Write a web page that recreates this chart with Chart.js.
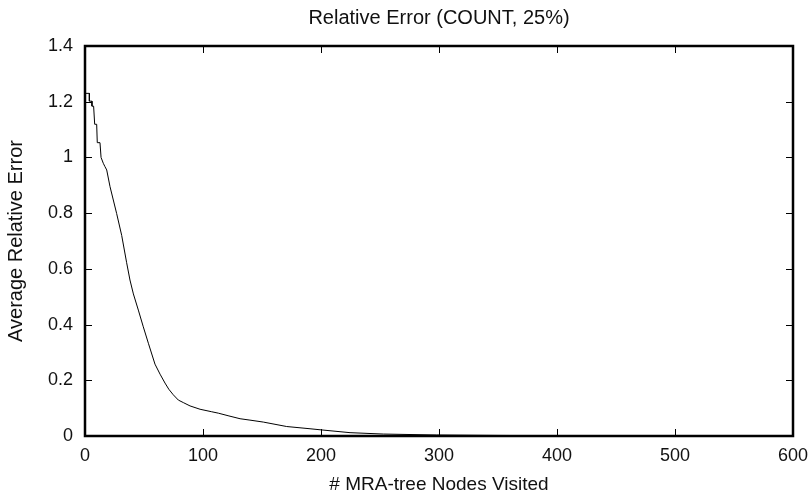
<!DOCTYPE html>
<html>
<head>
<meta charset="utf-8">
<script src="https://cdn.jsdelivr.net/npm/chart.js@4"></script>
<style>
html,body{margin:0;padding:0;background:#fff;}
#wrap{width:810px;height:498px;}
</style>
</head>
<body>
<div id="wrap"><canvas id="c" width="810" height="498"></canvas></div>
<script>
const chartTitle = "Relative Error (COUNT, 25%)";
const xAxisTitle = "# MRA-tree Nodes Visited";
const yAxisTitle = "Average Relative Error";
const xTickValues = [0, 100, 200, 300, 400, 500, 600];
const yTickValues = [0, 0.2, 0.4, 0.6, 0.8, 1, 1.2, 1.4];
const nodesVisited = [0, 3.7, 3.7, 5.9, 5.9, 7.3, 8.2, 9.9, 10.4, 12.7, 13.6, 15.5, 16.9, 18.4, 21.2, 26.8, 31.1, 35.3, 38.1, 41, 45.2, 49.4, 53.7, 59.3, 63.6, 67.8, 71, 74.8, 79.1, 83.3, 89, 97.5, 107.4, 113, 122, 131.4, 139.8, 151.1, 170.9, 190.7, 200, 224.6, 252.8, 298, 350, 400, 500, 600];
const avgRelError = [1.230, 1.230, 1.202, 1.202, 1.184, 1.184, 1.119, 1.119, 1.053, 1.053, 1.000, 0.979, 0.967, 0.955, 0.895, 0.799, 0.720, 0.622, 0.560, 0.510, 0.452, 0.392, 0.333, 0.258, 0.222, 0.190, 0.168, 0.148, 0.129, 0.120, 0.108, 0.096, 0.087, 0.082, 0.072, 0.062, 0.057, 0.050, 0.034, 0.026, 0.022, 0.012, 0.007, 0.0036, 0.002, 0.001, 0.0005, 0.0003];

const FONT = "'Liberation Sans', Arial, Helvetica, sans-serif";
const points = nodesVisited.map((x, i) => ({x: x, y: avgRelError[i]}));

const frameAndTicks = {
  id: 'frameAndTicks',
  afterDatasetsDraw(chart) {
    const ctx = chart.ctx, a = chart.chartArea;
    const xs = chart.scales.x, ys = chart.scales.y;
    const L = 7;
    ctx.save();
    ctx.strokeStyle = '#000';
    ctx.lineWidth = 1;
    ctx.beginPath();
    xTickValues.forEach(v => {
      const px = Math.round(xs.getPixelForValue(v)) + 0.5;
      ctx.moveTo(px, a.bottom); ctx.lineTo(px, a.bottom - L);
      ctx.moveTo(px, a.top); ctx.lineTo(px, a.top + L);
    });
    yTickValues.forEach(v => {
      const py = Math.round(ys.getPixelForValue(v)) + 0.5;
      ctx.moveTo(a.left, py); ctx.lineTo(a.left + L, py);
      ctx.moveTo(a.right, py); ctx.lineTo(a.right - L, py);
    });
    ctx.stroke();
    ctx.lineWidth = 2.5;
    ctx.strokeRect(a.left, a.top, a.right - a.left, a.bottom - a.top);
    // title centred over the plot area
    ctx.fillStyle = '#111';
    ctx.font = "20px " + FONT;
    ctx.textAlign = 'center';
    ctx.textBaseline = 'middle';
    ctx.fillText(chartTitle, (a.left + a.right) / 2, 18);
    ctx.restore();
  }
};

new Chart(document.getElementById('c'), {
  type: 'line',
  data: {
    datasets: [{
      data: points,
      borderColor: '#000',
      borderWidth: 1,
      pointRadius: 0,
      fill: false,
      tension: 0
    }]
  },
  options: {
    responsive: false,
    animation: false,
    devicePixelRatio: 1,
    layout: {padding: {left: 0, right: 17, top: 46, bottom: 0}},
    plugins: {
      legend: {display: false},
      tooltip: {enabled: false},
      title: {display: false}
    },
    scales: {
      x: {
        type: 'linear',
        min: 0, max: 600,
        afterBuildTicks: s => { s.ticks = xTickValues.map(v => ({value: v})); },
        afterFit: s => { s.height = 62; s.paddingLeft = 0; s.paddingRight = 0; },
        grid: {display: false, drawTicks: false},
        border: {display: false},
        ticks: {color: '#111', font: {family: FONT, size: 18}, padding: 9, maxRotation: 0, autoSkip: false},
        title: {display: true, text: xAxisTitle, color: '#111', font: {family: FONT, size: 19}, padding: {top: 2, bottom: 2}}
      },
      y: {
        type: 'linear',
        min: 0, max: 1.4,
        afterBuildTicks: s => { s.ticks = yTickValues.map(v => ({value: v})); },
        afterFit: s => { s.width = 85; s.paddingTop = 0; s.paddingBottom = 0; },
        grid: {display: false, drawTicks: false},
        border: {display: false},
        ticks: {color: '#111', font: {family: FONT, size: 18}, padding: 12, autoSkip: false,
                callback: v => String(Math.round(v * 10) / 10)},
        title: {display: true, text: yAxisTitle, color: '#111', font: {family: FONT, size: 20}, padding: {top: 4, bottom: 4}}
      }
    }
  },
  plugins: [frameAndTicks]
});
</script>
</body>
</html>
